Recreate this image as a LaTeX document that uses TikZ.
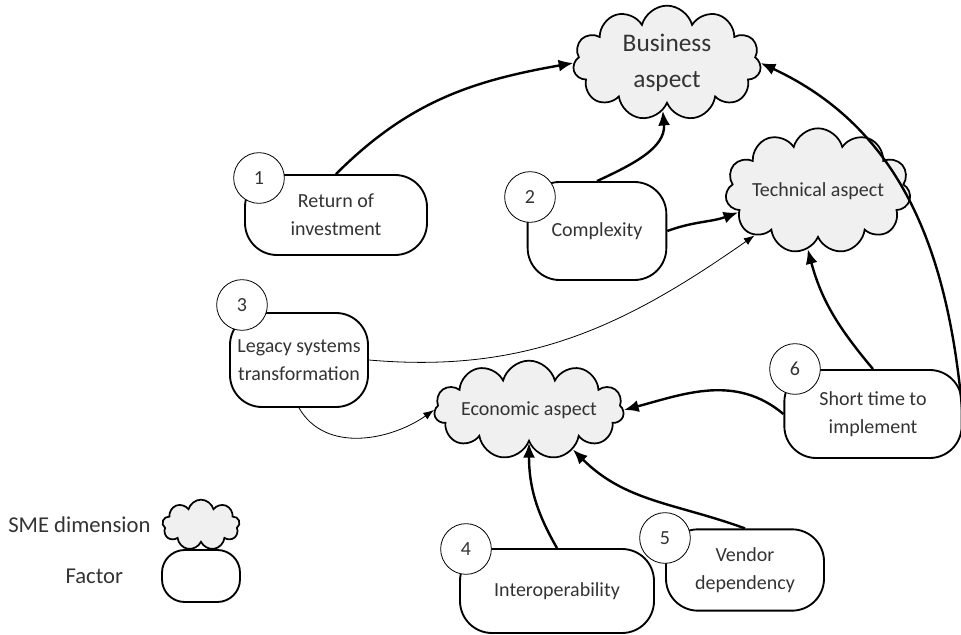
\documentclass[tikz,border=0pt]{standalone}
\usepackage{fontspec}
\setmainfont{Carlito}
\usetikzlibrary{shapes.symbols,arrows.meta,positioning}
\tikzstyle{dimension} = [shape=cloud, cloud puffs=11, cloud ignores aspect,
		draw, line width=1.3pt, fill=black!6, text=black!80,
		align=center, inner sep=0pt]
\tikzstyle{factor} = [shape=rectangle, rounded corners=24pt,
		draw, line width=1.4pt, text=black!80,
		align=center, inner sep=0pt]
\tikzstyle{num} = [shape=circle, draw, line width=0.6pt, fill=white,
		text=black!80, minimum size=38pt, inner sep=0pt]
\tikzstyle{link} = [->, line width=1.8pt, >={Latex[length=11pt,width=9pt]}]
\tikzstyle{thinlink} = [->, line width=0.6pt, >={Latex[length=8pt,width=6pt]}]

\begin{document}
\begin{tikzpicture}[x=0.75pt,y=-0.75pt,font=\fontsize{15}{21}\selectfont]
	\useasboundingbox (0,0) rectangle (961,635);
	% SME dimensions
	\node[dimension, minimum width=141pt, minimum height=86pt,
		font=\fontsize{19}{27}\selectfont] (business) at (667,63) {Business\\aspect};
	\node[dimension, minimum width=139pt, minimum height=94pt] (technical) at (818,191) {Technical aspect};
	\node[dimension, minimum width=138pt, minimum height=74pt] (economic) at (529,410) {Economic aspect};
	% factors
	\node[factor, minimum width=136.5pt, minimum height=60pt] (roi) at (336,215) {Return of\\investment};
	\node[factor, minimum width=104pt, minimum height=73.5pt] (complexity) at (597,231) {Complexity};
	\node[factor, minimum width=103.5pt, minimum height=70.5pt] (legacy) at (299,360) {Legacy systems\\transformation};
	\node[factor, minimum width=145.5pt, minimum height=63pt] (interop) at (557,591) {Interoperability};
	\node[factor, minimum width=118.5pt, minimum height=61pt] (vendor) at (745,570) {Vendor\\dependency};
	\node[factor, minimum width=133pt, minimum height=66pt] (shorttime) at (873,414) {Short time to\\implement};
	% numbers
	\node[num] (n1) at (259,178) {1};
	\node[num] (n2) at (530,197) {2};
	\node[num] (n3) at (242,305) {3};
	\node[num] (n4) at (466,549) {4};
	\node[num] (n5) at (665,538) {5};
	\node[num] (n6) at (795,369) {6};
	% legend
	\node[dimension, minimum width=58pt, minimum height=38pt, cloud puffs=9] (legcloud) at (201,525) {};
	\node[factor, minimum width=58.5pt, minimum height=39pt, rounded corners=17pt] (legbox) at (201,576) {};
	\node[text=black!80, font=\fontsize{17}{20}\selectfont, left=5pt of legcloud] (legcloudtext) {SME dimension};
	\node[text=black!80, font=\fontsize{17}{20}\selectfont, left=25pt of legbox] (legboxtext) {Factor};

	\path [link] (roi.north) edge[out=45,in=190] (business.west);
	\path [link] (complexity.north) edge[out=25,in=-85] (business.265);
	\path [link] (complexity.east) edge[out=20,in=200] (technical.195);
	\path [thinlink] (legacy.east) edge[out=-5,in=215] (technical.215);
	\path [thinlink] (legacy.south) edge[out=-60,in=215] (economic.west);
	\path [link] (shorttime.west) edge[out=140,in=15] (economic.east);
	\path [link] (interop.north) edge[out=120,in=-90] (economic.south);
	\path [link] (vendor.north) edge[out=160,in=-45] (economic.-42);
	\path [link] (shorttime.north) edge[out=130,in=-75] (technical.-100);
	\path [link] (shorttime.east) edge[out=95,in=-25] (business.east);
\end{tikzpicture}
\end{document}
